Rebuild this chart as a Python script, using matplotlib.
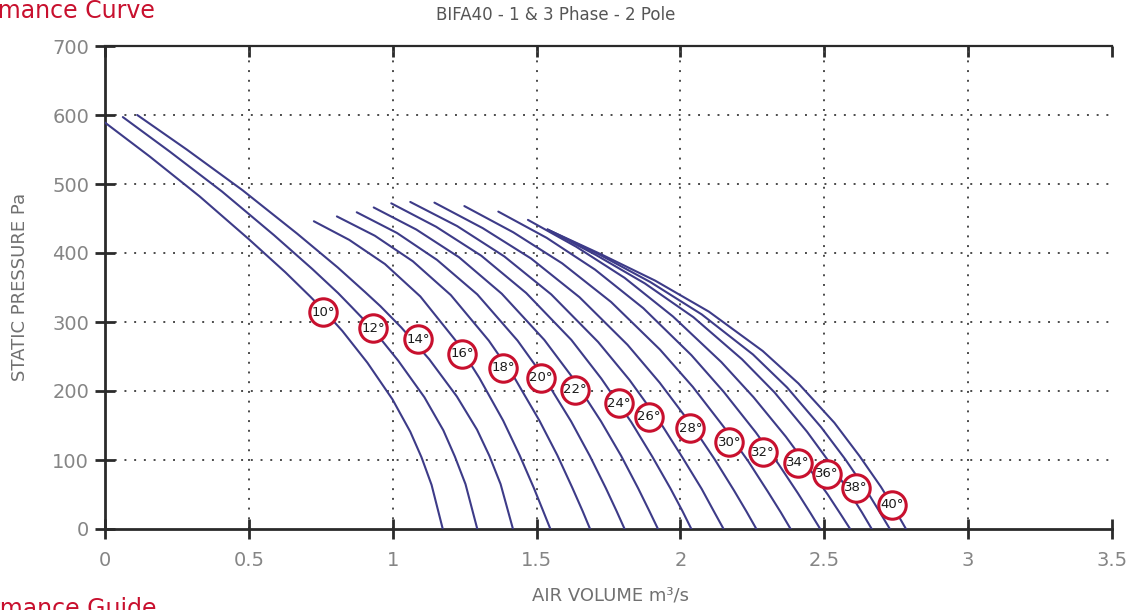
import matplotlib
matplotlib.use("Agg")
import matplotlib.pyplot as plt

# ---------------- data ----------------
angles = [10, 12, 14, 16, 18, 20, 22, 24, 26, 28, 30, 32, 34, 36, 38, 40]

x_10 = [0, 0.155, 0.329, 0.5, 0.627, 0.713, 0.76, 0.825, 0.912, 0.999, 1.061, 1.10, 1.135, 1.174]
p_10 = [589, 540, 482, 420, 372, 337, 317, 287, 241, 188, 141, 104, 64, 0]
x_12 = [0.062, 0.225, 0.407, 0.587, 0.720, 0.810, 0.859, 0.928, 1.019, 1.110, 1.176, 1.216, 1.253, 1.294]
p_12 = [597, 547, 489, 426, 377, 342, 321, 291, 244, 191, 143, 105, 65, 0]
x_14 = [0.112, 0.284, 0.478, 0.668, 0.809, 0.905, 0.957, 1.030, 1.127, 1.223, 1.293, 1.336, 1.375, 1.418]
p_14 = [600, 550, 491, 428, 379, 343, 323, 292, 246, 192, 144, 106, 65, 0]
x_16 = [0.726, 0.849, 0.973, 1.096, 1.219, 1.301, 1.384, 1.441, 1.490, 1.523, 1.548]
p_16 = [446, 419, 384, 337, 273, 219, 157, 107, 60, 26, 0]
x_18 = [0.806, 0.938, 1.070, 1.202, 1.334, 1.422, 1.510, 1.572, 1.624, 1.660, 1.686]
p_18 = [453, 425, 388, 339, 273, 220, 157, 107, 60, 26, 0]
x_20 = [0.875, 1.015, 1.154, 1.294, 1.434, 1.527, 1.620, 1.685, 1.741, 1.778, 1.806]
p_20 = [459, 429, 390, 340, 273, 219, 156, 106, 59, 26, 0]
x_22 = [0.934, 1.082, 1.230, 1.379, 1.527, 1.626, 1.724, 1.794, 1.853, 1.892, 1.922]
p_22 = [466, 434, 394, 341, 274, 219, 156, 106, 59, 26, 0]
x_24 = [0.995, 1.151, 1.308, 1.464, 1.621, 1.725, 1.829, 1.902, 1.965, 2.007, 2.038]
p_24 = [472, 438, 396, 342, 274, 218, 155, 105, 59, 26, 0]
x_26 = [1.061, 1.224, 1.388, 1.551, 1.714, 1.823, 1.932, 2.008, 2.074, 2.117, 2.150]
p_26 = [474, 439, 395, 340, 271, 216, 153, 103, 58, 25, 0]
x_28 = [1.145, 1.313, 1.481, 1.649, 1.816, 1.928, 2.040, 2.119, 2.186, 2.230, 2.264]
p_28 = [473, 436, 392, 336, 267, 212, 150, 101, 56, 25, 0]
x_30 = [1.249, 1.419, 1.589, 1.759, 1.929, 2.043, 2.156, 2.236, 2.304, 2.349, 2.383]
p_30 = [468, 430, 385, 329, 260, 206, 145, 98, 54, 24, 0]
x_32 = [1.367, 1.535, 1.703, 1.871, 2.038, 2.150, 2.262, 2.341, 2.408, 2.452, 2.486]
p_32 = [460, 422, 376, 320, 252, 199, 140, 94, 52, 23, 0]
x_34 = [1.470, 1.638, 1.806, 1.974, 2.142, 2.254, 2.366, 2.444, 2.512, 2.556, 2.590]
p_34 = [448, 409, 364, 308, 242, 191, 134, 90, 50, 22, 0]
x_36 = [1.538, 1.707, 1.876, 2.045, 2.214, 2.327, 2.440, 2.519, 2.586, 2.631, 2.665]
p_36 = [434, 397, 356, 307, 246, 198, 141, 96, 54, 24, 0]
x_38 = [1.538, 1.717, 1.895, 2.074, 2.252, 2.371, 2.490, 2.573, 2.645, 2.692, 2.728]
p_38 = [434, 398, 358, 311, 253, 205, 147, 101, 57, 25, 0]
x_40 = [1.538, 1.725, 1.912, 2.099, 2.286, 2.410, 2.535, 2.622, 2.697, 2.747, 2.784]
p_40 = [434, 398, 360, 315, 258, 211, 154, 106, 61, 27, 0]

label_x = [0.758, 0.932, 1.088, 1.241, 1.383, 1.515, 1.634, 1.786, 1.890, 2.035,
           2.170, 2.287, 2.408, 2.508, 2.610, 2.734]
label_y = [314, 291, 275, 254, 234, 219, 202, 182, 163, 146, 126, 111, 96, 80, 60, 35]

x_ticks = [0, 0.5, 1, 1.5, 2, 2.5, 3, 3.5]
x_tick_labels = ["0", "0.5", "1", "1.5", "2", "2.5", "3", "3.5"]
y_ticks = [0, 100, 200, 300, 400, 500, 600, 700]

curves_x = [x_10, x_12, x_14, x_16, x_18, x_20, x_22, x_24,
            x_26, x_28, x_30, x_32, x_34, x_36, x_38, x_40]
curves_p = [p_10, p_12, p_14, p_16, p_18, p_20, p_22, p_24,
            p_26, p_28, p_30, p_32, p_34, p_36, p_38, p_40]

# ---------------- figure ----------------
W, H = 1132, 610
fig = plt.figure(figsize=(W / 100, H / 100), dpi=100)
ax = fig.add_axes([105 / W, 1 - 529 / H, (1112 - 105) / W, (529 - 46) / H])

ax.set_xlim(0, 3.5)
ax.set_ylim(0, 700)

# dotted grid
grid_kw = dict(color="#4a4a4a", linestyle=(0, (1, 4)), linewidth=1.4, zorder=1)
for xv in x_ticks[1:-1]:
    ax.axvline(xv, **grid_kw)
for yv in y_ticks[1:-1]:
    ax.axhline(yv, **grid_kw)

curve_color = "#3d3b88"
for xs, ps in zip(curves_x, curves_p):
    ax.plot(xs, ps, color=curve_color, linewidth=1.5, zorder=3,
            solid_joinstyle="round", solid_capstyle="round")

ax.scatter(label_x, label_y, s=390, facecolor="white", edgecolor="#c8102e",
           linewidth=2.2, zorder=5)
for lx, ly, a in zip(label_x, label_y, angles):
    ax.text(lx, ly, f"{a}°", ha="center", va="center", fontsize=9.5,
            color="#1a1a1a", zorder=6)

# spines and ticks
ax.spines["right"].set_visible(False)
ax.spines["top"].set_visible(False)
for s in ["left", "bottom"]:
    ax.spines[s].set_linewidth(2)
    ax.spines[s].set_color("#2a2a2a")

ax.set_xticks(x_ticks)
ax.set_xticklabels(x_tick_labels)
ax.set_yticks(y_ticks)
ax.tick_params(axis="both", direction="inout", length=15, width=2, color="#2a2a2a",
               labelcolor="#858585", labelsize=14)
ax.tick_params(axis="x", pad=8)
ax.tick_params(axis="y", pad=4)

top = ax.secondary_xaxis("top")
top.set_xticks(x_ticks)
top.tick_params(direction="in", length=8, width=2, color="#2a2a2a", labeltop=False)
top.spines["top"].set_linewidth(1.6)
top.spines["top"].set_color("#2a2a2a")

fig.text(20 / W, 1 - 287 / H, "STATIC PRESSURE Pa", rotation=90, ha="center",
         va="center", fontsize=13, color="#707070")
fig.text(610 / W, 1 - 595 / H, "AIR VOLUME m³/s", ha="center", va="center",
         fontsize=13, color="#707070")
fig.text(556 / W, 1 - 15 / H, "BIFA40 - 1 & 3 Phase - 2 Pole", ha="center",
         va="center", fontsize=12, color="#555555")
fig.text(155 / W, 1 - 11 / H, "Performance Curve", ha="right", va="center",
         fontsize=17, color="#c8102e")
fig.text(157 / W, 1 - 597 / H, "Performance Guide", ha="right", va="top",
         fontsize=17, color="#c8102e")

fig.savefig("out.png", dpi=100)
